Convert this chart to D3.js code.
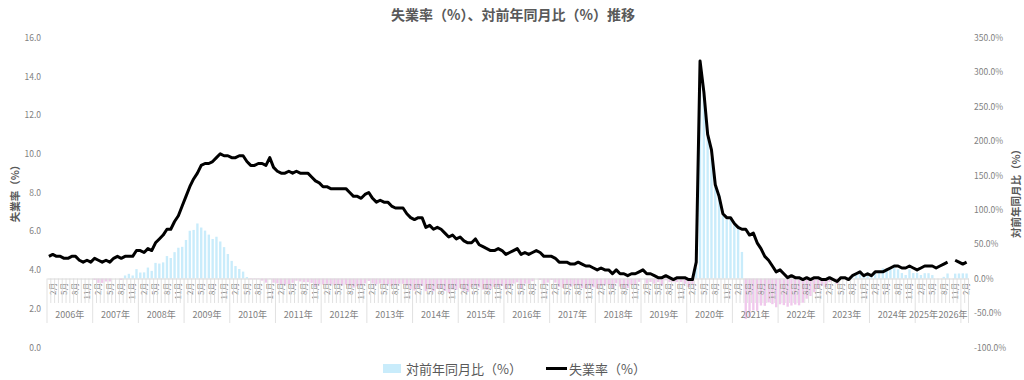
<!DOCTYPE html>
<html><head><meta charset="utf-8">
<script src="https://cdn.jsdelivr.net/npm/d3@7"></script>
<style>html,body{margin:0;padding:0;background:#fff}</style>
</head><body><svg id="c" width="1024" height="380"></svg>
<script>
// ---- data ----
const years = [2006,2007,2008,2009,2010,2011,2012,2013,2014,2015,2016,2017,2018,2019,2020,2021,2022,2023,2024,2025,2026];
const months = ["1月","2月","3月","4月","5月","6月","7月","8月","9月","10月","11月","12月"];
const labelMonths = ["2月","5月","8月","11月"];
// 失業率（%） monthly, 2006年1月 – 2026年2月
const unemp = [
 4.7,4.8,4.7,4.7,4.6,4.6,4.7,4.7,4.5,4.4,4.5,4.4,
 4.6,4.5,4.4,4.5,4.4,4.6,4.7,4.6,4.7,4.7,4.7,5.0,
 5.0,4.9,5.1,5.0,5.4,5.6,5.8,6.1,6.1,6.5,6.8,7.3,
 7.8,8.3,8.7,9.0,9.4,9.5,9.5,9.6,9.8,10.0,9.9,9.9,
 9.8,9.8,9.9,9.9,9.6,9.4,9.4,9.5,9.5,9.4,9.8,9.3,
 9.1,9.0,9.0,9.1,9.0,9.1,9.0,9.0,9.0,8.8,8.6,8.5,
 8.3,8.3,8.2,8.2,8.2,8.2,8.2,8.0,7.8,7.8,7.7,7.9,
 8.0,7.7,7.5,7.6,7.5,7.5,7.3,7.2,7.2,7.2,6.9,6.7,
 6.6,6.7,6.7,6.2,6.3,6.1,6.2,6.1,5.9,5.7,5.8,5.6,
 5.7,5.5,5.4,5.4,5.6,5.3,5.2,5.1,5.0,5.0,5.1,5.0,
 4.8,4.9,5.0,5.1,4.8,4.9,4.8,4.9,5.0,4.9,4.7,4.7,
 4.7,4.6,4.4,4.4,4.4,4.3,4.3,4.4,4.3,4.2,4.2,4.1,
 4.0,4.1,4.0,4.0,3.8,4.0,3.8,3.8,3.7,3.8,3.8,3.9,
 4.0,3.8,3.8,3.7,3.6,3.6,3.7,3.6,3.5,3.6,3.6,3.6,
 3.5,3.5,4.4,14.8,13.2,11.0,10.2,8.4,7.8,6.9,6.7,6.7,
 6.4,6.2,6.1,6.1,5.8,5.9,5.4,5.1,4.7,4.5,4.2,3.9,
 4.0,3.8,3.6,3.7,3.6,3.6,3.5,3.6,3.5,3.6,3.6,3.5,
 3.5,3.6,3.5,3.4,3.6,3.6,3.5,3.7,3.8,3.9,3.7,3.8,
 3.7,3.9,3.9,3.9,4.0,4.1,4.2,4.2,4.1,4.1,4.2,4.1,
 4.0,4.1,4.2,4.2,4.2,4.1,4.2,4.3,4.4,null,4.5,4.4,
 4.3,4.4
];
// 対前年同月比（%） monthly, same months
const yoy = [
 null,null,null,null,null,null,null,null,null,null,null,null,
 -2.1,-6.3,-6.4,-4.3,-4.3,0.0,0.0,-2.1,4.4,6.8,4.4,13.6,
 8.7,8.9,15.9,11.1,22.7,21.7,23.4,32.6,29.8,38.3,44.7,46.0,
 56.0,69.4,70.6,80.0,74.1,69.6,63.8,57.4,60.7,53.8,45.6,35.6,
 25.6,18.1,13.8,10.0,2.1,-1.1,-1.1,-1.0,-3.1,-6.0,-1.0,-6.1,
 -7.1,-8.2,-9.1,-8.1,-6.3,-3.2,-4.3,-5.3,-5.3,-6.4,-12.2,-8.6,
 -8.8,-7.8,-8.9,-9.9,-8.9,-9.9,-8.9,-11.1,-13.3,-11.4,-10.5,-7.1,
 -3.6,-7.2,-8.5,-7.3,-8.5,-8.5,-11.0,-10.0,-7.7,-7.7,-10.4,-15.2,
 -17.5,-13.0,-10.7,-18.4,-16.0,-18.7,-15.1,-15.3,-18.1,-20.8,-15.9,-16.4,
 -13.6,-17.9,-19.4,-12.9,-11.1,-13.1,-16.1,-16.4,-15.3,-12.3,-12.1,-10.7,
 -15.8,-10.9,-7.4,-5.6,-14.3,-7.5,-7.7,-3.9,0.0,-2.0,-7.8,-6.0,
 -2.1,-6.1,-12.0,-13.7,-8.3,-12.2,-10.4,-10.2,-14.0,-14.3,-10.6,-12.8,
 -14.9,-10.9,-9.1,-9.1,-13.6,-7.0,-11.6,-13.6,-14.0,-9.5,-9.5,-4.9,
 0.0,-7.3,-5.0,-7.5,-5.3,-10.0,-2.6,-5.3,-5.4,-5.3,-5.3,-7.7,
 -12.5,-7.9,15.8,300.0,266.7,205.6,175.7,133.3,122.9,91.7,86.1,86.1,
 82.9,77.1,38.6,-58.8,-56.1,-46.4,-47.1,-39.3,-39.7,-34.8,-37.3,-41.8,
 -37.5,-38.7,-41.0,-39.3,-37.9,-39.0,-35.2,-29.4,-25.5,-20.0,-14.3,-10.3,
 -12.5,-5.3,-2.8,-8.1,0.0,0.0,0.0,2.8,8.6,8.3,2.8,8.6,
 5.7,8.3,11.4,14.7,11.1,13.9,20.0,13.5,7.9,5.1,13.5,7.9,
 8.1,5.1,7.7,7.7,5.0,0.0,0.0,2.4,7.3,null,7.1,7.3,
 7.5,7.3
];
const leftTicks = [0,2,4,6,8,10,12,14,16];
const rightTicks = [-100,-50,0,50,100,150,200,250,300,350];
const title = "失業率（%）、対前年同月比（%）推移";
const leftTitle = "失業率（%）";
const rightTitle = "対前年同月比（%）";

// ---- layout ----
const FONT = "'Noto Sans CJK JP','Noto Sans',sans-serif";
const cats = [];
years.forEach(y => months.forEach(m => { if (cats.length < unemp.length) cats.push({year:y, month:m, i:cats.length}); }));
const n = cats.length;
const plotL = 47, plotR = 968.5, plotT = 37.7, plotB = 347.3;

const svg = d3.select("#c").style("font-family", FONT);
const x = d3.scaleBand().domain(d3.range(n)).range([plotL, plotR]).paddingInner(0.38).paddingOuter(0.19);
const step = x.step();
const yL = d3.scaleLinear().domain([0,16]).range([plotB, plotT]);
const yR = d3.scaleLinear().domain([-100,350]).range([plotB, plotT]);
const y0 = yR(0);

// title
svg.append("text").attr("x", 513).attr("y", 20).attr("text-anchor","middle")
  .attr("font-size", 14).attr("font-weight","bold").attr("fill","#595959").text(title);

// bars
svg.append("g").selectAll("rect").data(cats.filter(d => yoy[d.i] != null)).join("rect")
  .attr("x", d => x(d.i)).attr("width", x.bandwidth())
  .attr("y", d => Math.min(yR(yoy[d.i]), y0))
  .attr("height", d => Math.abs(yR(yoy[d.i]) - y0))
  .attr("fill", d => yoy[d.i] >= 0 ? "#c9ecfb" : "#f0c8ec");

// category axis
const xAxis = d3.axisBottom(x)
  .tickValues(cats.filter(d => labelMonths.includes(d.month)).map(d => d.i))
  .tickFormat(i => cats[i].month).tickSize(0).tickSizeOuter(0);
const gx = svg.append("g").attr("transform", `translate(0,${y0})`).call(xAxis);
gx.select(".domain").attr("stroke", "#d9d9d9");
gx.selectAll("text").attr("transform","rotate(-90)").attr("text-anchor","end")
  .attr("x", -4).attr("y", 0).attr("dy", "0.35em")
  .attr("font-size", 8).attr("font-family", FONT).attr("fill", "#7f7f7f");

// separators
const bounds = d3.range(n + 1);
svg.append("g").selectAll("line").data(bounds).join("line")
  .attr("x1", i => plotL + i * step).attr("x2", i => plotL + i * step)
  .attr("y1", y0).attr("y2", i => (i % 12 === 0 || i === n) ? 323 : 303)
  .attr("stroke", "#d9d9d9").attr("stroke-width", 0.8);

// year labels (last two are squeezed toward the left, as in the original)
function yearCenter(yr) {
  const idx = cats.filter(d => d.year === yr).map(d => d.i);
  return (x(idx[0]) + x(idx[idx.length-1]) + x.bandwidth()) / 2;
}
const yl = svg.append("g").selectAll("text").data(years).join("text")
  .attr("x", yr => yearCenter(yr))
  .attr("y", 318)
  .attr("text-anchor", "middle")
  .attr("font-size", 9).attr("fill","#7f7f7f")
  .text(yr => yr + "年");
const lastLbl = yl.filter(yr => yr === 2026).attr("text-anchor","end").attr("x", plotR - 1);
const lastW = lastLbl.node().getComputedTextLength();
yl.filter(yr => yr === 2025).attr("text-anchor","end").attr("x", plotR - 1 - lastW - 0.5);

// line
const line = d3.line().defined(i => unemp[i] != null)
  .x(i => x(i) + x.bandwidth()/2).y(i => yL(unemp[i]));
svg.append("path").datum(d3.range(n)).attr("d", line)
  .attr("fill","none").attr("stroke","#000").attr("stroke-width", 3).attr("stroke-linejoin","round");

// left axis
const gl = svg.append("g").attr("transform", `translate(${plotL-3},0)`)
  .call(d3.axisLeft(yL).tickValues(leftTicks).tickFormat(d3.format(".1f")).tickSize(0).tickPadding(3));
gl.select(".domain").remove();
gl.selectAll("text").attr("font-size", 8.5).attr("font-family", FONT).attr("fill","#7f7f7f");

// right axis
const gr = svg.append("g").attr("transform", `translate(${plotR+2.5},0)`)
  .call(d3.axisRight(yR).tickValues(rightTicks).tickFormat(d => d.toFixed(1) + "%").tickSize(0).tickPadding(3));
gr.select(".domain").remove();
gr.selectAll("text").attr("font-size", 8.5).attr("font-family", FONT).attr("fill","#7f7f7f");

// axis titles
svg.append("text").attr("transform","translate(19,191) rotate(-90)").attr("text-anchor","middle")
  .attr("font-size", 10.5).attr("font-weight","bold").attr("fill","#595959").text(leftTitle);
svg.append("text").attr("transform","translate(1020,191) rotate(-90)").attr("text-anchor","middle")
  .attr("font-size", 10.5).attr("font-weight","bold").attr("fill","#595959").text(rightTitle);

// legend
const lg = svg.append("g");
lg.append("rect").attr("x", 383).attr("y", 364).attr("width", 18).attr("height", 9).attr("fill", "#c9ecfb");
lg.append("text").attr("x", 406).attr("y", 373.5).attr("font-size", 13).attr("fill","#595959").text(rightTitle);
lg.append("line").attr("x1", 546).attr("x2", 567).attr("y1", 368.5).attr("y2", 368.5).attr("stroke","#000").attr("stroke-width",3);
lg.append("text").attr("x", 569).attr("y", 373.5).attr("font-size", 13).attr("fill","#595959").text(leftTitle);
</script></body></html>
